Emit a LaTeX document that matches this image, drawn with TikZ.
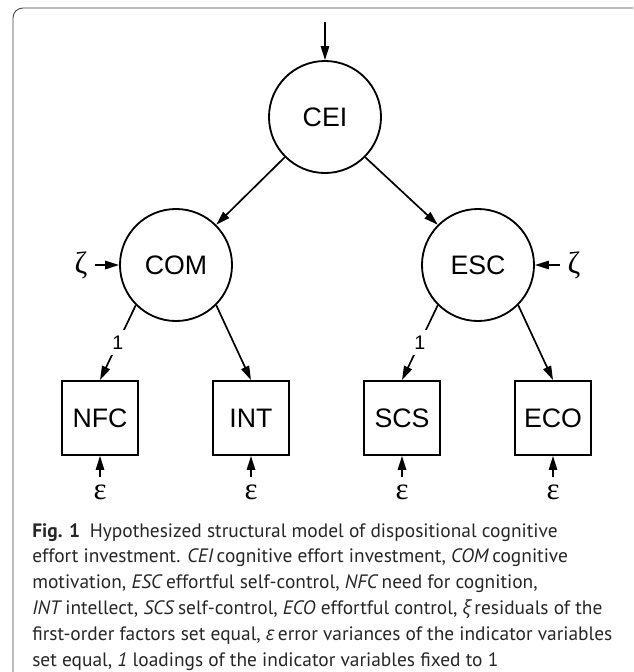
\documentclass[tikz,border=0pt]{standalone}
\usepackage{fontspec}
\usetikzlibrary{arrows.meta}
\newfontfamily\diafont{Liberation Sans}
\newfontfamily\grkfont{Liberation Serif}
\newfontfamily\capfont{PT Sans}
\newfontfamily\capgreek{Open Sans}
\tikzset{
    latent/.style={circle,draw,line width=1.3pt,minimum size=2.8cm,inner sep=0pt,
        font=\diafont\fontsize{19}{22}\selectfont},
    observed/.style={rectangle,draw,line width=1.3pt,minimum width=1.9cm,minimum height=1.85cm,
        inner sep=0pt,font=\diafont\fontsize{19}{22}\selectfont},
    resid/.style={inner sep=5pt,font=\grkfont\fontsize{22}{22}\selectfont},
    loading/.style={fill=white,inner sep=4pt,font=\diafont\fontsize{14}{16}\selectfont},
    semarrow/.style={-{Triangle[length=10pt,width=6pt]},line width=1.2pt},
}
\begin{document}
\begin{tikzpicture}[x=0.025cm,y=-0.025cm]
    \useasboundingbox (0,0) rectangle (633,672);
    %draw frame
    \draw[black!75,line width=0.6pt,rounded corners=7pt] (13,672) -- (13,8) -- (633,8);
    %draw factors
    \node[latent] (CEI) at (325,117) {CEI};
    \node[latent] (COM) at (176,265) {COM};
    \node[latent] (ESC) at (478,265) {ESC};
    \coordinate (top) at (325,22);
    \draw[semarrow] (top) -- (CEI);
    \draw[semarrow] (CEI.225) -- (COM.45);
    \draw[semarrow] (CEI.315) -- (ESC.135);
    %draw residuals of the first-order factors
    \node[resid] (zCOM) at (81,265) {ζ};
    \node[resid] (zESC) at (574,265) {ζ};
    \draw[semarrow] (zCOM) -- (COM);
    \draw[semarrow] (zESC) -- (ESC);
    %draw indicators
    \foreach \name/\x in {NFC/100,INT/251,SCS/402,ECO/553}
        {%
            \node[observed] (\name) at (\x,418) {\name};
            \node[resid] (e\name) at (\x,492) {ε};
            \draw[semarrow] (e\name) -- (\name);
        }
    \draw[semarrow] (COM.225) -- node[loading] (lNFC) {1} (NFC.north);
    \draw[semarrow] (COM.315) -- (INT.north);
    \draw[semarrow] (ESC.225) -- node[loading] (lSCS) {1} (SCS.north);
    \draw[semarrow] (ESC.315) -- (ECO.north);
    %draw caption
    \node[anchor=north west,align=left,inner sep=0pt,text=black!85,
        font=\capfont\fontsize{13.8}{18.4}\selectfont] (caption) at (32,523)
        {\textbf{Fig. 1}\enspace Hypothesized structural model of dispositional cognitive\\
        effort investment. \textit{CEI}\,cognitive effort investment, \textit{COM}\,cognitive\\
        motivation, \textit{ESC}\,effortful self-control, \textit{NFC}\,need for cognition,\\
        \textit{INT}\,intellect, \textit{SCS}\,self-control, \textit{ECO}\ effortful control, {\capgreek\itshape ξ}\,residuals of the\\
        first-order factors set equal, {\capgreek\itshape ε}\,error variances of the indicator variables\\
        set equal, \textit{1}\ loadings of the indicator variables fixed to 1};
\end{tikzpicture}
\end{document}
